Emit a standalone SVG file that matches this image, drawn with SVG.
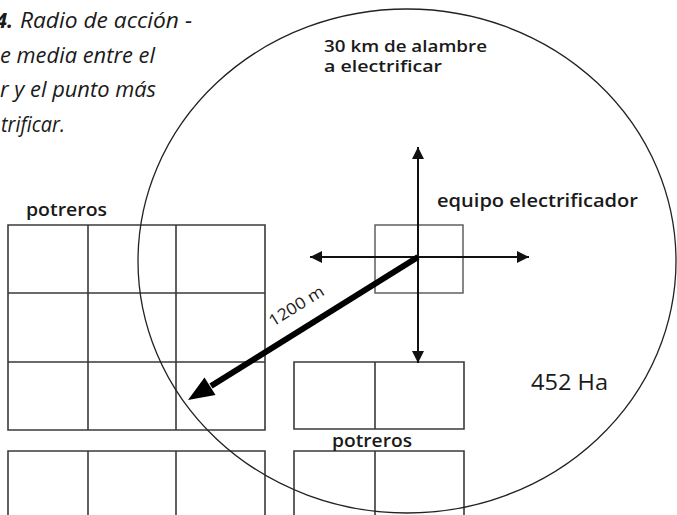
<svg xmlns="http://www.w3.org/2000/svg" width="677" height="515" viewBox="0 0 677 515">
<style>
.grid{fill:none;stroke:#3a3a3a;stroke-width:1.6}
.box{fill:none;stroke:#555;stroke-width:1.4}
.circ{fill:none;stroke:#222;stroke-width:1.3}
.arr{stroke:#111;stroke-width:2}
.lbl{font-family:"Open Sans","DejaVu Sans",sans-serif;font-weight:600;fill:#1a1a1a}
.reg{font-family:"Open Sans","DejaVu Sans",sans-serif;font-weight:400;fill:#1a1a1a}
.cap{font-family:"Open Sans","Noto Sans",sans-serif;font-style:italic;font-size:21px;fill:#1a1a1a}
</style>
<defs>
<marker id="ah" viewBox="0 0 12 12" refX="12" refY="6" markerWidth="12" markerHeight="12" markerUnits="userSpaceOnUse" orient="auto">
<path d="M0,0 L12,6 L0,12 Z" fill="#111"/>
</marker>
</defs>
<rect width="677" height="515" fill="#fff"/>
<g id="caption">
<text class="cap" x="13" y="28" text-anchor="end" style="font-weight:bold">4.</text>
<text class="cap" x="20" y="28" textLength="172" lengthAdjust="spacingAndGlyphs">Radio de acción -</text>
<text class="cap" x="0" y="63" textLength="155" lengthAdjust="spacingAndGlyphs">e media entre el</text>
<text class="cap" x="0" y="97" textLength="156" lengthAdjust="spacingAndGlyphs">r y el punto más</text>
<text class="cap" x="1" y="132" textLength="64" lengthAdjust="spacingAndGlyphs">trificar.</text>
</g>
<g id="potreros-left">
<path class="grid" d="M8,225 H265 V430 H8 Z M8,293 H265 M8,362 H265 M88,225 V430 M176,225 V430"/>
<path class="grid" d="M8,520 V451 H265 V520 M88,451 V520 M176,451 V520"/>
<text class="lbl" x="26" y="216" font-size="18" textLength="81" lengthAdjust="spacingAndGlyphs">potreros</text>
</g>
<g id="potreros-right">
<path class="grid" d="M294,362 H464 V429 H294 Z M375,362 V429"/>
<path class="grid" d="M294,520 V451 H464 V520 M375,451 V520"/>
<text class="lbl" x="332" y="447" font-size="18" textLength="80" lengthAdjust="spacingAndGlyphs">potreros</text>
</g>
<g id="radio">
<ellipse class="circ" cx="407" cy="261" rx="269" ry="252"/>
<text class="lbl" x="324" y="52" font-size="16.5" textLength="163" lengthAdjust="spacingAndGlyphs">30 km de alambre</text>
<text class="lbl" x="324" y="72" font-size="16.5" textLength="118" lengthAdjust="spacingAndGlyphs">a electrificar</text>
<text class="reg" x="531" y="390" font-size="21" textLength="77" lengthAdjust="spacingAndGlyphs">452 Ha</text>
</g>
<g id="equipo">
<rect class="box" x="375" y="225" width="88" height="68"/>
<text class="lbl" x="437" y="207" font-size="18" textLength="201" lengthAdjust="spacingAndGlyphs">equipo electrificador</text>
</g>
<g id="connectors">
<line class="arr" x1="418" y1="257" x2="418" y2="147" marker-end="url(#ah)"/>
<line class="arr" x1="418" y1="257" x2="418" y2="363" marker-end="url(#ah)"/>
<line class="arr" x1="418" y1="257" x2="310" y2="257" marker-end="url(#ah)"/>
<line class="arr" x1="418" y1="257" x2="529" y2="257" marker-end="url(#ah)"/>
<line x1="418" y1="257" x2="211" y2="386" stroke="#000" stroke-width="6"/>
<path d="M188,400 L215.5,395 L204.5,377.5 Z" fill="#000"/>
<text class="reg" transform="translate(273,327) rotate(-32)" font-size="16" textLength="62" lengthAdjust="spacingAndGlyphs">1200 m</text>
</g>
</svg>
